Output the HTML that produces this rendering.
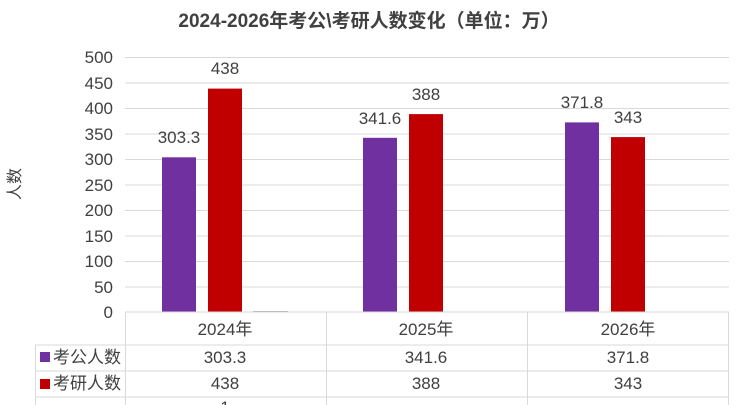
<!DOCTYPE html>
<html><head><meta charset="utf-8"><style>
html,body{margin:0;padding:0;background:#fff;}
svg{display:block;font-family:"Liberation Sans","Noto Sans CJK SC",sans-serif;}
</style></head><body>
<svg width="738" height="405" viewBox="0 0 738 405">
<text x="369" y="27" text-anchor="middle" font-size="19" font-weight="bold" fill="#404040">2024-2026年考公\考研人数变化（单位：万）</text>
<g stroke="#d9d9d9" stroke-width="1">
<line x1="125" x2="729" y1="57.5" y2="57.5"/>
<line x1="125" x2="729" y1="83" y2="83"/>
<line x1="125" x2="729" y1="108.5" y2="108.5"/>
<line x1="125" x2="729" y1="134" y2="134"/>
<line x1="125" x2="729" y1="159.5" y2="159.5"/>
<line x1="125" x2="729" y1="185" y2="185"/>
<line x1="125" x2="729" y1="210.5" y2="210.5"/>
<line x1="125" x2="729" y1="236" y2="236"/>
<line x1="125" x2="729" y1="261.5" y2="261.5"/>
<line x1="125" x2="729" y1="287" y2="287"/>
</g>
<g font-size="17" fill="#404040" text-anchor="end">
<text x="113" y="63">500</text><text x="113" y="89">450</text><text x="113" y="114">400</text>
<text x="113" y="140">350</text><text x="113" y="165">300</text><text x="113" y="191">250</text>
<text x="113" y="216">200</text><text x="113" y="242">150</text><text x="113" y="267">100</text>
<text x="113" y="293">50</text><text x="113" y="318">0</text>
</g>
<text transform="translate(20,184) rotate(-90)" text-anchor="middle" font-size="16" fill="#404040">人数</text>
<g>
<rect x="162" y="157.3" width="34" height="154.7" fill="#7030a0"/>
<rect x="208" y="88.6" width="34" height="223.4" fill="#c00000"/>
<rect x="253" y="311" width="35" height="1" fill="#a5a5a5"/>
<rect x="363" y="137.8" width="34" height="174.2" fill="#7030a0"/>
<rect x="409" y="114.1" width="34" height="197.9" fill="#c00000"/>
<rect x="565" y="122.4" width="34" height="189.6" fill="#7030a0"/>
<rect x="611" y="137.1" width="34" height="174.9" fill="#c00000"/>
</g>
<g font-size="17" fill="#404040" text-anchor="middle">
<text x="179" y="143">303.3</text><text x="225" y="74">438</text>
<text x="380" y="124">341.6</text><text x="426" y="100">388</text>
<text x="582" y="108">371.8</text><text x="628" y="123">343</text>
</g>
<g stroke="#d9d9d9" stroke-width="1" fill="none">
<line x1="125" x2="729" y1="312" y2="312"/>
<line x1="35" x2="729" y1="345" y2="345"/>
<line x1="35" x2="729" y1="371" y2="371"/>
<line x1="35" x2="729" y1="397" y2="397"/>
<line x1="125.5" x2="125.5" y1="312" y2="405"/>
<line x1="326.5" x2="326.5" y1="312" y2="405"/>
<line x1="527.5" x2="527.5" y1="312" y2="405"/>
<line x1="728.5" x2="728.5" y1="312" y2="405"/>
<line x1="35.5" x2="35.5" y1="345" y2="405"/>
</g>
<g font-size="17" fill="#404040" text-anchor="middle">
<text x="225" y="335">2024年</text><text x="426" y="335">2025年</text><text x="628" y="335">2026年</text>
<text x="225" y="363">303.3</text><text x="426" y="363">341.6</text><text x="628" y="363">371.8</text>
<text x="225" y="389">438</text><text x="426" y="389">388</text><text x="628" y="389">343</text>
<text x="225" y="413">1</text>
</g>
<rect x="40" y="352" width="10" height="10" fill="#7030a0"/>
<rect x="40" y="379" width="10" height="10" fill="#c00000"/>
<g font-size="17" fill="#404040">
<text x="53" y="363">考公人数</text>
<text x="53" y="389">考研人数</text>
</g>
</svg>
</body></html>
